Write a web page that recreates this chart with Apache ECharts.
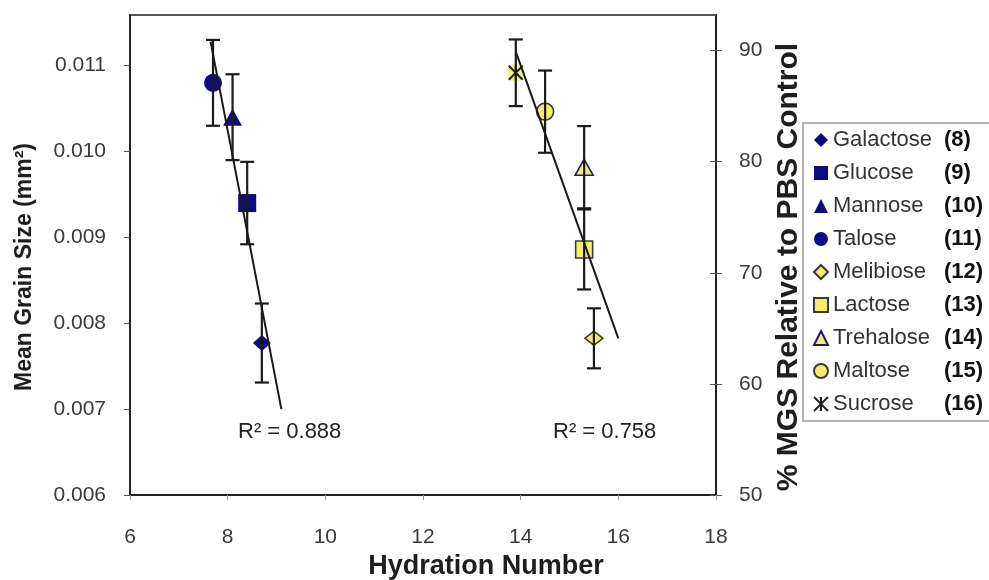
<!DOCTYPE html>
<html><head><meta charset="utf-8">
<script src="https://cdn.jsdelivr.net/npm/echarts@6/dist/echarts.min.js"></script>
<style>html,body{margin:0;padding:0;background:#fff}#c{width:989px;height:580px}</style>
</head><body><div id="c"></div>
<script>
// ---- data ----
const monoNames = ['Galactose', 'Glucose', 'Mannose', 'Talose'];
const monoNums  = [8, 9, 10, 11];
const monoX     = [8.7, 8.4, 8.1, 7.7];
const monoY     = [0.00777, 0.0094, 0.0104, 0.0108];
const monoErr   = [0.00046, 0.00048, 0.0005, 0.0005];

const diNames = ['Melibiose', 'Lactose', 'Trehalose', 'Maltose', 'Sucrose'];
const diNums  = [12, 13, 14, 15, 16];
const diX     = [15.5, 15.3, 15.3, 14.5, 13.9];
const diY     = [64.1, 72.1, 79.5, 84.5, 88.0];
const diErr   = [2.7, 3.6, 3.7, 3.7, 3.0];

const monoTrend = [[7.65, 0.01128], [9.1, 0.0070]];
const diTrend   = [[13.9, 89.9], [16.0, 64.1]];
const r2Texts   = ['R\u00B2 = 0.888', 'R\u00B2 = 0.758'];

const xTicks     = [6, 8, 10, 12, 14, 16, 18];
const yLeftTicks = [0.006, 0.007, 0.008, 0.009, 0.010, 0.011];
const yRightTicks = [50, 60, 70, 80, 90];

// ---- styles ----
const FONT = 'Liberation Sans';
const NAVY = '#0c0c7e';
const YEL = '#f3ee70';
const EDGE = '#3a3a3a';
const INK = '#1a1a1a';
const monoSym = [
  { symbol: 'diamond', size: [18, 16] },
  { symbol: 'rect', size: [18, 18] },
  { symbol: 'triangle', size: [19, 17] },
  { symbol: 'circle', size: 18 }
];
const diSym = [
  { symbol: 'diamond', size: [18, 14] },
  { symbol: 'rect', size: [17, 17] },
  { symbol: 'triangle', size: [18, 16] },
  { symbol: 'circle', size: 17 },
  { symbol: 'path://M0,0L10,10M10,0L0,10M5,0L5,10', size: 14 }
];

const numByName = {};
monoNames.forEach((n, i) => numByName[n] = monoNums[i]);
diNames.forEach((n, i) => numByName[n] = diNums[i]);

function errBar(yIdx, xs, ys, es) {
  return {
    type: 'custom', yAxisIndex: yIdx, z: 4, silent: true,
    encode: { x: 0, y: [1, 2] },
    data: xs.map((x, i) => [x, ys[i] - es[i], ys[i] + es[i]]),
    renderItem: function (params, api) {
      const lo = api.coord([api.value(0), api.value(1)]);
      const hi = api.coord([api.value(0), api.value(2)]);
      const w = 7;
      const st = { stroke: INK, lineWidth: 2.2 };
      return { type: 'group', children: [
        { type: 'line', shape: { x1: lo[0], y1: lo[1], x2: hi[0], y2: hi[1] }, style: st },
        { type: 'line', shape: { x1: lo[0] - w, y1: lo[1], x2: lo[0] + w, y2: lo[1] }, style: st },
        { type: 'line', shape: { x1: hi[0] - w, y1: hi[1], x2: hi[0] + w, y2: hi[1] }, style: st }
      ]};
    }
  };
}

const series = [];
monoNames.forEach((n, i) => series.push({
  type: 'scatter', name: n, yAxisIndex: 0, z: 3,
  data: [[monoX[i], monoY[i]]],
  symbol: monoSym[i].symbol, symbolSize: monoSym[i].size,
  itemStyle: { color: NAVY, opacity: 1 }
}));
// halo behind sucrose marker
series.push({
  type: 'scatter', name: '_halo', yAxisIndex: 1, z: 2, silent: true,
  data: [[diX[4], diY[4]]], symbol: 'circle', symbolSize: 18,
  itemStyle: { color: 'rgba(238,232,80,0.75)' }
});
diNames.forEach((n, i) => {
  const isPath = i === 4;
  series.push({
    type: 'scatter', name: n, yAxisIndex: 1, z: 3,
    data: [[diX[i], diY[i]]],
    symbol: diSym[i].symbol, symbolSize: diSym[i].size,
    itemStyle: isPath
      ? { color: 'rgba(0,0,0,0)', borderColor: '#222', borderWidth: 2, opacity: 1 }
      : { color: YEL, borderColor: (i === 2 ? '#1c1c70' : EDGE), borderWidth: 1.6, opacity: 1 }
  });
});
series.push(errBar(0, monoX, monoY, monoErr));
series.push(errBar(1, diX, diY, diErr));
series.push({ type: 'line', yAxisIndex: 0, z: 5, data: monoTrend, symbol: 'none', silent: true,
  lineStyle: { color: INK, width: 2 } });
series.push({ type: 'line', yAxisIndex: 1, z: 5, data: diTrend, symbol: 'none', silent: true,
  lineStyle: { color: INK, width: 2 } });

const tickLabel = { fontFamily: FONT, fontSize: 21, color: '#3a3a3a' };
const titleStyle = { fontFamily: FONT, fontWeight: 'bold', color: '#1e1e1e' };

const option = {
  animation: false,
  backgroundColor: '#ffffff',
  grid: { left: 130, right: 273, top: 15, bottom: 85, show: true, borderColor: '#222', borderWidth: 1.5,
          containLabel: false, outerBoundsMode: 'none' },
  xAxis: {
    type: 'value', min: xTicks[0], max: xTicks[xTicks.length - 1], interval: xTicks[1] - xTicks[0],
    axisLine: { onZero: false, lineStyle: { color: '#222', width: 2 } },
    axisTick: { length: 5, lineStyle: { color: '#999' } },
    axisLabel: Object.assign({ margin: 32 }, tickLabel),
    splitLine: { show: false },
    name: 'Hydration Number', nameLocation: 'middle', nameGap: 57,
    nameTextStyle: Object.assign({ fontSize: 27, padding: [0, 0, 0, 126] }, titleStyle)
  },
  yAxis: [
    {
      type: 'value', position: 'left', min: yLeftTicks[0], max: 0.01159,
      interval: yLeftTicks[1] - yLeftTicks[0],
      axisLine: { onZero: false, lineStyle: { color: '#222', width: 2 } },
      axisTick: { length: 6, lineStyle: { color: '#555' } },
      axisLabel: Object.assign({ margin: 24, showMaxLabel: false,
        formatter: v => yLeftTicks.some(t => Math.abs(t - v) < 1e-9) ? v.toFixed(3) : '' }, tickLabel),
      splitLine: { show: false },
      name: 'Mean Grain Size (mm\u00B2)', nameLocation: 'middle', nameGap: 94, nameRotate: 90,
      nameTextStyle: Object.assign({ fontSize: 23, padding: [0, 24, 0, 0] }, titleStyle)
    },
    {
      type: 'value', position: 'right', min: yRightTicks[0], max: 93.2,
      interval: yRightTicks[1] - yRightTicks[0],
      axisLine: { onZero: false, lineStyle: { color: '#222', width: 2 } },
      axisTick: { length: 6, lineStyle: { color: '#555' } },
      axisLabel: Object.assign({ margin: 23, showMaxLabel: false,
        formatter: v => yRightTicks.indexOf(v) >= 0 ? String(v) : '' }, tickLabel),
      splitLine: { show: false },
      name: '% MGS Relative to PBS Control', nameLocation: 'middle', nameGap: 45, nameRotate: 90,
      nameTextStyle: Object.assign({ fontSize: 30, padding: [0, 24, 0, 0] }, titleStyle)
    },
    {
      type: 'value', position: 'right', min: yRightTicks[0], max: 93.2,
      interval: yRightTicks[1] - yRightTicks[0],
      axisLine: { show: false }, axisLabel: { show: false },
      axisTick: { inside: true, length: 6, lineStyle: { color: '#555' } },
      splitLine: { show: false }
    }
  ],
  legend: {
    orient: 'vertical', left: 803, top: 123,
    data: monoNames.concat(diNames),
    itemWidth: 14, itemHeight: 14, itemGap: 11,
    padding: [6, 30, 6, 10],
    borderColor: '#9a9a9a', borderWidth: 1.5, backgroundColor: '#fff',
    selectedMode: false,
    formatter: name => '{n|' + name + '}{k|(' + numByName[name] + ')}',
    textStyle: {
      fontFamily: FONT, fontSize: 22, color: '#333',
      rich: {
        n: { width: 111, fontFamily: FONT, fontSize: 22, color: '#333', lineHeight: 22 },
        k: { fontFamily: FONT, fontSize: 22, fontWeight: 'bold', color: '#111', lineHeight: 22 }
      }
    }
  },
  graphic: [
    { type: 'text', left: 238, top: 421, style: { text: r2Texts[0], font: '22px "Liberation Sans"', fill: '#222' } },
    { type: 'text', left: 553, top: 421, style: { text: r2Texts[1], font: '22px "Liberation Sans"', fill: '#222' } }
  ],
  series: series
};

const chart = echarts.init(document.getElementById('c'), null, { renderer: 'canvas' });
chart.setOption(option);
</script>
</body></html>
